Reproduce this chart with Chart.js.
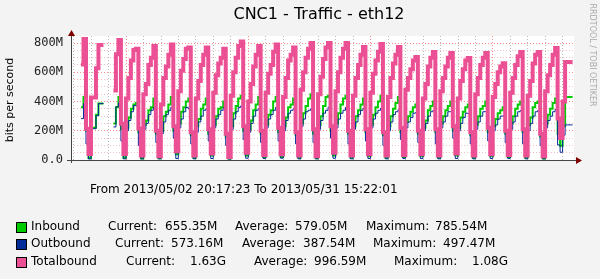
<!DOCTYPE html>
<html>
<head>
<meta charset="utf-8">
<script src="https://cdn.jsdelivr.net/npm/chart.js@4/dist/chart.umd.min.js"></script>
<style>
  html, body { margin: 0; padding: 0; background: #f3f3f3; }
  canvas { display: block; }
</style>
</head>
<body>
<canvas id="graph" width="600" height="279"></canvas>
<script>
// values in Mbit/s, one sample every 24/7 hours, one row per day (7 samples)
const inbound = [
  null, null, null, null, 360, 360, 430,
  200, 14, 220, 220, 310, 386, 386,
  null, null, null, 250, 250, 360, 430,
  210, 15, 220, 290, 350, 380, 390,
  190, 10, 240, 270, 340, 360, 420,
  180, 12, 200, 300, 330, 380, 430,
  200, 40, 250, 330, 360, 400, 420,
  170, 15, 230, 280, 350, 380, 420,
  180, 30, 240, 300, 350, 360, 400,
  160, 10, 230, 320, 370, 420, 440,
  200, 30, 210, 270, 340, 380, 430,
  180, 20, 240, 310, 340, 400, 430,
  190, 20, 230, 290, 360, 380, 420,
  170, 15, 250, 320, 370, 420, 450,
  180, 12, 240, 300, 370, 430, 440,
  200, 30, 250, 320, 380, 420, 440,
  180, 15, 230, 300, 340, 380, 420,
  190, 25, 240, 310, 360, 400, 440,
  170, 15, 230, 300, 350, 390, 430,
  190, 20, 260, 300, 330, 360, 380,
  180, 25, 220, 270, 340, 370, 400,
  190, 15, 250, 300, 340, 370, 400,
  200, 30, 220, 290, 330, 360, 380,
  170, 15, 240, 300, 350, 370, 400,
  190, 25, 230, 280, 320, 340, 360,
  180, 20, 250, 300, 350, 380, 400,
  190, 15, 240, 290, 360, 390, 400,
  160, 10, 250, 310, 350, 390, 420,
  180, 97, 230, 430, 430, 430
];
const outbound = [
  null, null, null, null, 283, 283, 386,
  110, 7, 214, 214, 303, 386, 386,
  null, null, null, 226, 226, 364, 391,
  130, 8, 200, 270, 330, 372, 370,
  100, 8, 210, 250, 310, 340, 360,
  120, 8, 180, 260, 310, 340, 360,
  150, 10, 220, 280, 330, 360, 350,
  110, 8, 190, 260, 300, 340, 350,
  130, 10, 220, 280, 310, 340, 360,
  100, 6, 210, 280, 330, 360, 370,
  140, 12, 190, 250, 300, 340, 350,
  120, 10, 220, 280, 310, 340, 360,
  130, 12, 200, 270, 320, 340, 350,
  110, 8, 230, 280, 330, 340, 350,
  120, 8, 210, 270, 320, 340, 360,
  150, 12, 220, 280, 320, 340, 360,
  110, 8, 210, 260, 310, 340, 353,
  130, 10, 220, 280, 320, 340, 353,
  100, 8, 200, 260, 310, 330, 343,
  140, 10, 220, 260, 290, 320, 324,
  120, 10, 200, 250, 300, 330, 338,
  110, 8, 220, 260, 300, 330, 331,
  150, 10, 200, 250, 290, 320, 317,
  110, 8, 210, 260, 300, 330, 331,
  130, 10, 200, 240, 280, 300, 302,
  120, 10, 210, 260, 300, 330, 338,
  110, 8, 200, 250, 300, 330, 338,
  100, 8, 220, 270, 300, 330, 346,
  103, 53, 170, 240, 240, 240
];
const totalbound = [
  null, null, null, null, 653, 653, 828,
  214, 41, 428, 428, 628, 786, 786,
  null, null, null, 476, 476, 724, 821,
  248, 41, 420, 560, 680, 752, 760,
  215, 30, 450, 520, 650, 700, 780,
  200, 25, 380, 560, 640, 720, 790,
  230, 60, 470, 610, 690, 760, 770,
  190, 30, 420, 540, 650, 720, 770,
  210, 45, 460, 580, 660, 700, 760,
  180, 20, 440, 600, 700, 780, 810,
  230, 50, 400, 520, 640, 720, 780,
  200, 35, 460, 590, 650, 740, 790,
  220, 40, 430, 560, 680, 720, 770,
  190, 30, 480, 600, 700, 760, 800,
  210, 25, 450, 570, 690, 770, 800,
  230, 50, 470, 600, 700, 760, 800,
  200, 30, 440, 560, 650, 720, 773,
  210, 40, 460, 590, 680, 740, 793,
  190, 30, 430, 560, 660, 720, 773,
  220, 35, 480, 560, 620, 680, 704,
  200, 40, 420, 520, 640, 700, 738,
  210, 30, 470, 560, 640, 700, 731,
  230, 45, 420, 540, 620, 680, 697,
  190, 30, 450, 560, 650, 700, 731,
  220, 40, 430, 520, 600, 640, 662,
  200, 35, 460, 560, 650, 710, 738,
  210, 30, 440, 540, 660, 720, 738,
  180, 25, 470, 580, 650, 720, 766,
  283, 150, 400, 670, 670, 670
];

const yTicks = [0, 50, 100, 150, 200, 250, 300, 350, 400, 450, 500, 550, 600, 650, 700, 750, 800];
const spanHours = 691.08;       // 2013/05/02 20:17:23 -> 2013/05/31 15:22:01
const firstMidnight = 3.71;     // hours from start to 2013/05/03 00:00
const mondays = [3, 10, 17, 24];

const legendNames = ['Inbound', 'Outbound', 'Totalbound'];
const legendColors = ['#00cc00', '#002a97', '#ec5094'];
const legendCurrent = ['655.35M', '573.16M', '1.63G'];
const legendAverage = ['579.05M', '387.54M', '996.59M'];
const legendMaximum = ['785.54M', '497.47M', '1.08G'];

const sampleHours = inbound.map((v, i) => i * 24 / 7);

const rrdFrame = {
  id: 'rrdFrame',
  beforeDraw(chart) {
    const ctx = chart.ctx, a = chart.chartArea;
    ctx.save();
    ctx.fillStyle = '#f3f3f3';
    ctx.fillRect(0, 0, chart.width, chart.height);
    ctx.fillStyle = '#ffffff';
    ctx.fillRect(a.left, a.top, a.right - a.left, a.bottom - a.top);
    ctx.restore();
  },
  afterDatasetsDraw(chart) {
    const ctx = chart.ctx, a = chart.chartArea;
    ctx.save();
    ctx.strokeStyle = '#444';
    ctx.lineWidth = 1;
    ctx.beginPath();
    ctx.moveTo(a.left - 4, a.bottom + 0.5);
    ctx.lineTo(a.right + 3, a.bottom + 0.5);
    ctx.moveTo(a.left + 0.5, a.bottom + 3);
    ctx.lineTo(a.left + 0.5, a.top - 1);
    ctx.stroke();
    // arrows
    ctx.fillStyle = '#800000';
    ctx.beginPath();
    ctx.moveTo(a.right + 2, a.bottom - 3);
    ctx.lineTo(a.right + 8, a.bottom + 0.5);
    ctx.lineTo(a.right + 2, a.bottom + 4);
    ctx.fill();
    ctx.beginPath();
    ctx.moveTo(a.left - 3, a.top);
    ctx.lineTo(a.left + 0.5, a.top - 6);
    ctx.lineTo(a.left + 4, a.top);
    ctx.fill();
    ctx.restore();
  },
  afterDraw(chart) {
    const ctx = chart.ctx;
    ctx.save();
    ctx.fillStyle = '#000';
    ctx.textBaseline = 'middle';
    ctx.textAlign = 'center';
    ctx.font = '16px "DejaVu Sans"';
    ctx.fillText('CNC1 - Traffic - eth12', 319, 15);

    ctx.save();
    ctx.translate(10, 100);
    ctx.rotate(-Math.PI / 2);
    ctx.font = '11px "DejaVu Sans"';
    ctx.fillText('bits per second', 0, 0);
    ctx.restore();

    ctx.save();
    ctx.translate(592, 55);
    ctx.rotate(Math.PI / 2);
    ctx.fillStyle = '#aaa';
    ctx.font = '8px "DejaVu Sans"';
    ctx.fillText('RRDTOOL / TOBI OETIKER', 0, 0);
    ctx.restore();

    ctx.textAlign = 'left';
    ctx.font = '12px "DejaVu Sans"';
    ctx.fillText('From 2013/05/02 20:17:23 To 2013/05/31 15:22:01', 90, 190);

    const rowY = [227, 244, 262];
    const cols = [
      [108, 165, 235, 295, 366, 435],
      [115, 171, 242, 303, 373, 443],
      [126, 190, 254, 314, 394, 472]
    ];
    legendNames.forEach((name, i) => {
      const y = rowY[i];
      ctx.fillStyle = legendColors[i];
      ctx.fillRect(16, y - 5, 10, 10);
      ctx.strokeStyle = '#000';
      ctx.lineWidth = 1;
      ctx.strokeRect(16.5, y - 4.5, 10, 10);
      ctx.fillStyle = '#000';
      ctx.fillText(name, 31, y);
      const c = cols[i];
      ctx.fillText('Current:', c[0], y);
      ctx.fillText(legendCurrent[i], c[1], y);
      ctx.fillText('Average:', c[2], y);
      ctx.fillText(legendAverage[i], c[3], y);
      ctx.fillText('Maximum:', c[4], y);
      ctx.fillText(legendMaximum[i], c[5], y);
    });
    ctx.restore();
  }
};

const lineStyle = {
  pointRadius: 0,
  stepped: 'after',
  fill: false,
  spanGaps: false,
  borderJoinStyle: 'miter',
  borderCapStyle: 'butt'
};

new Chart(document.getElementById('graph'), {
  type: 'line',
  data: {
    labels: sampleHours,
    datasets: [
      Object.assign({ label: 'Totalbound', data: totalbound, borderColor: legendColors[2], borderWidth: 4, order: 0 }, lineStyle),
      Object.assign({ label: 'Outbound', data: outbound, borderColor: legendColors[1], borderWidth: 1, order: 1 }, lineStyle),
      Object.assign({ label: 'Inbound', data: inbound, borderColor: legendColors[0], borderWidth: 2, order: 2 }, lineStyle)
    ]
  },
  options: {
    responsive: false,
    animation: false,
    layout: { padding: { left: 0, top: 36, right: 26, bottom: 0 } },
    plugins: { legend: { display: false }, tooltip: { enabled: false } },
    scales: {
      x: {
        type: 'linear',
        min: 0,
        max: spanHours,
        afterBuildTicks: s => {
          const t = [];
          for (let k = 0; firstMidnight + 24 * k < spanHours; k++) t.push({ value: firstMidnight + 24 * k });
          s.ticks = t;
        },
        afterFit: s => { s.height = 119; },
        ticks: { display: false },
        grid: {
          drawTicks: false,
          color: c => mondays.includes(c.index) ? 'rgba(255,110,110,0.8)' : 'rgba(170,170,170,0.8)'
        },
        border: { display: false, dash: [1, 2] }
      },
      y: {
        min: 0,
        max: 848,
        afterBuildTicks: s => { s.ticks = yTicks.map(v => ({ value: v })); },
        afterFit: s => { s.width = 71; },
        ticks: {
          autoSkip: false,
          padding: 8,
          color: '#222',
          font: { family: '"DejaVu Sans Mono"', size: 12 },
          callback: v => v % 200 === 0 ? (v === 0 ? '0.0' : v + 'M') : ''
        },
        grid: {
          drawTicks: false,
          color: c => c.tick.value % 200 === 0 ? 'rgba(255,110,110,0.8)' : 'rgba(230,150,150,0.6)'
        },
        border: { display: false, dash: [1, 2] }
      }
    }
  },
  plugins: [rrdFrame]
});
</script>
</body>
</html>
